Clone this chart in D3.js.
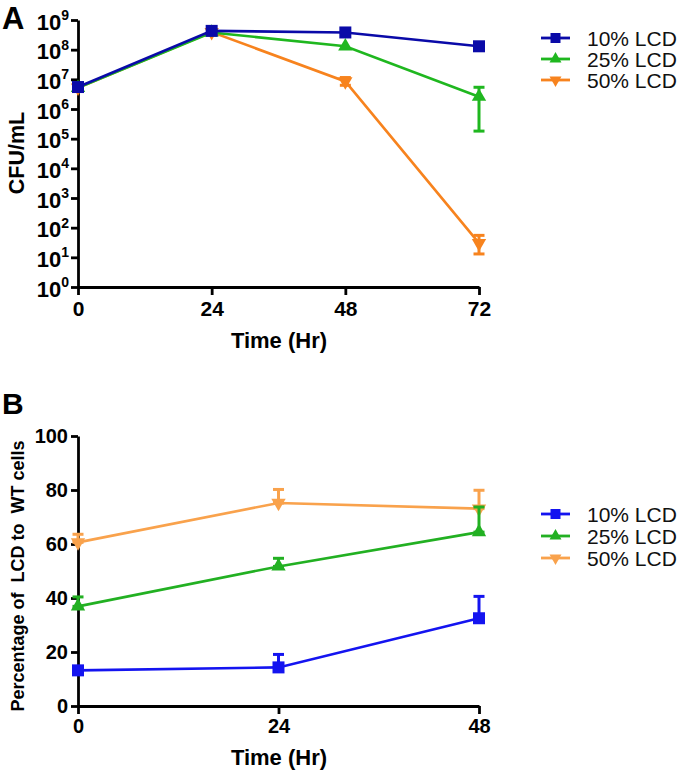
<!DOCTYPE html>
<html><head><meta charset="utf-8">
<script src="https://cdn.jsdelivr.net/npm/d3@7"></script>
<style>body{margin:0;background:#fff}svg{display:block}</style>
</head><body>
<svg id="chart" width="680" height="770"></svg>
<script>
// ---------- Panel A data ----------
const timesA = [0, 24, 48, 72];
const seriesNames = ["10% LCD", "25% LCD", "50% LCD"];
const lcd10A = [5.5e6, 4.3e8, 3.8e8, 1.3e8];
const lcd25A = [5.2e6, 3.8e8, 1.3e8, 2.6e6];
const lcd50A = [5.2e6, 3.9e8, 8.5e6, 30];
const lcd10A_hi = [null, null, null, null];
const lcd10A_lo = [null, null, null, null];
const lcd25A_hi = [null, null, null, 5.4e6];
const lcd25A_lo = [null, null, null, 1.8e5];
const lcd50A_hi = [null, null, 1.15e7, 55];
const lcd50A_lo = [null, null, 6.3e6, 13];
const yExpA = [0, 1, 2, 3, 4, 5, 6, 7, 8, 9];
const xTicksA = [0, 24, 48, 72];

// ---------- Panel B data ----------
const timesB = [0, 24, 48];
const lcd10B = [13.2, 14.3, 32.5];
const lcd25B = [36.9, 51.7, 64.4];
const lcd50B = [60.6, 75.2, 73.1];
const lcd10B_hi = [null, 19.1, 40.6];
const lcd25B_hi = [40.4, 54.7, 73.7];
const lcd50B_hi = [63.6, 80.2, 79.9];
const yTicksB = [0, 20, 40, 60, 80, 100];
const xTicksB = [0, 24, 48];

const colorsA = ["#0a0aa8", "#1fb71f", "#f7831e"];
const colorsB = ["#1414f0", "#22b022", "#f9a24c"];
const symbols = ["square", "up", "down"];

const svg = d3.select("#chart");
const FONT = "Arial, 'Liberation Sans', sans-serif";

function marker(g, type, x, y, color, size) {
  let path;
  if (type === "square") path = d3.symbol().type(d3.symbolSquare).size(size * size)();
  else path = d3.symbol().type(d3.symbolTriangle).size(size * size * 0.62)();
  g.append("path").attr("d", path)
    .attr("transform", `translate(${x},${y})` + (type === "down" ? " rotate(180)" : ""))
    .attr("fill", color);
}

function styleAxis(g, fs) {
  g.selectAll(".domain").attr("stroke", "#000").attr("stroke-width", 2.8);
  g.selectAll(".tick line").attr("stroke", "#000").attr("stroke-width", 2.8);
  g.selectAll(".tick text").attr("fill", "#000").attr("font-family", FONT)
    .attr("font-weight", "bold").attr("font-size", fs);
}

function errorBar(g, x, yHi, yLo, color) {
  g.append("line").attr("x1", x).attr("x2", x).attr("y1", yHi).attr("y2", yLo)
    .attr("stroke", color).attr("stroke-width", 3);
  [yHi, yLo].forEach(v => {
    g.append("line").attr("x1", x - 5.5).attr("x2", x + 5.5).attr("y1", v).attr("y2", v)
      .attr("stroke", color).attr("stroke-width", 3);
  });
}

function legend(g, x0, y0, dy, colors) {
  seriesNames.forEach((n, i) => {
    const y = y0 + i * dy;
    g.append("line").attr("x1", x0).attr("x2", x0 + 29).attr("y1", y).attr("y2", y)
      .attr("stroke", colors[i]).attr("stroke-width", 2.8);
    marker(g, symbols[i], x0 + 14.5, y, colors[i], 10);
    g.append("text").attr("x", x0 + 46).attr("y", y).attr("dy", "0.36em")
      .attr("font-family", FONT).attr("font-size", 21).attr("fill", "#111").text(n);
  });
}

// ================= Panel A =================
{
  const x = d3.scaleLinear().domain([0, 72]).range([78, 479]);
  const y = d3.scaleLog().domain([1, 1e9]).range([287, 20]);
  const g = svg.append("g");

  const ya = g.append("g").attr("transform", "translate(78,0)")
    .call(d3.axisLeft(y).tickValues(yExpA.map(e => Math.pow(10, e))).tickSize(7).tickSizeOuter(0).tickFormat(""));
  styleAxis(ya, 20);
  ya.selectAll(".tick").each(function (d, i) {
    const t = d3.select(this).append("text").attr("x", -9).attr("dy", "0.42em")
      .attr("text-anchor", "end").attr("font-family", FONT).attr("font-weight", "bold").attr("font-size", 22).attr("fill", "#000");
    t.append("tspan").text("10");
    t.append("tspan").attr("font-size", 14).attr("dy", "-0.7em").text(yExpA[i]);
  });

  const xa = g.append("g").attr("transform", "translate(0,287)")
    .call(d3.axisBottom(x).tickValues(xTicksA).tickSize(8).tickSizeOuter(0).tickPadding(6));
  styleAxis(xa, 21);

  g.append("text").attr("x", 279).attr("y", 348).attr("text-anchor", "middle")
    .attr("font-family", FONT).attr("font-weight", "bold").attr("font-size", 22).text("Time (Hr)");
  g.append("text").attr("transform", "translate(24,153) rotate(-90)").attr("text-anchor", "middle")
    .attr("font-family", FONT).attr("font-weight", "bold").attr("font-size", 21.5).text("CFU/mL");
  g.append("text").attr("x", 2).attr("y", 29).attr("font-family", FONT).attr("font-weight", "bold")
    .attr("font-size", 31).text("A");

  const vals = [lcd10A, lcd25A, lcd50A];
  const his = [lcd10A_hi, lcd25A_hi, lcd50A_hi];
  const los = [lcd10A_lo, lcd25A_lo, lcd50A_lo];
  const line = d3.line().x(d => x(d[0])).y(d => y(d[1]));
  [2, 1, 0].forEach(s => {
    const c = colorsA[s];
    g.append("path").datum(timesA.map((t, i) => [t, vals[s][i]])).attr("d", line)
      .attr("fill", "none").attr("stroke", c).attr("stroke-width", 2.6);
    timesA.forEach((t, i) => {
      if (his[s][i] != null) errorBar(g, x(t), y(his[s][i]), y(los[s][i]), c);
      marker(g, symbols[s], x(t), y(vals[s][i]), c, 12);
    });
  });
  legend(g, 541, 38, 21, colorsA);
}

// ================= Panel B =================
{
  const x = d3.scaleLinear().domain([0, 48]).range([78, 479]);
  const y = d3.scaleLinear().domain([0, 100]).range([706, 436]);
  const g = svg.append("g");

  const ya = g.append("g").attr("transform", "translate(78,0)")
    .call(d3.axisLeft(y).tickValues(yTicksB).tickSize(7).tickSizeOuter(0).tickPadding(3));
  styleAxis(ya, 20);
  const xa = g.append("g").attr("transform", "translate(0,706)")
    .call(d3.axisBottom(x).tickValues(xTicksB).tickSize(8).tickSizeOuter(0).tickPadding(5));
  styleAxis(xa, 20);

  g.append("text").attr("x", 279).attr("y", 765).attr("text-anchor", "middle")
    .attr("font-family", FONT).attr("font-weight", "bold").attr("font-size", 22).text("Time (Hr)");
  g.append("text").attr("transform", "translate(24,576) rotate(-90)").attr("text-anchor", "middle")
    .attr("font-family", FONT).attr("font-weight", "bold").attr("font-size", 18)
    .attr("xml:space", "preserve").style("white-space", "pre").text("Percentage of  LCD to  WT cells");
  g.append("text").attr("x", 2).attr("y", 414).attr("font-family", FONT).attr("font-weight", "bold")
    .attr("font-size", 30).text("B");

  const vals = [lcd10B, lcd25B, lcd50B];
  const his = [lcd10B_hi, lcd25B_hi, lcd50B_hi];
  const line = d3.line().x(d => x(d[0])).y(d => y(d[1]));
  [2, 1, 0].forEach(s => {
    const c = colorsB[s];
    g.append("path").datum(timesB.map((t, i) => [t, vals[s][i]])).attr("d", line)
      .attr("fill", "none").attr("stroke", c).attr("stroke-width", 2.6);
    timesB.forEach((t, i) => {
      if (his[s][i] != null) errorBar(g, x(t), y(his[s][i]), y(vals[s][i]), c);
      marker(g, symbols[s], x(t), y(vals[s][i]), c, 12);
    });
  });
  legend(g, 541, 514, 22, colorsB);
}
</script>
</body></html>
